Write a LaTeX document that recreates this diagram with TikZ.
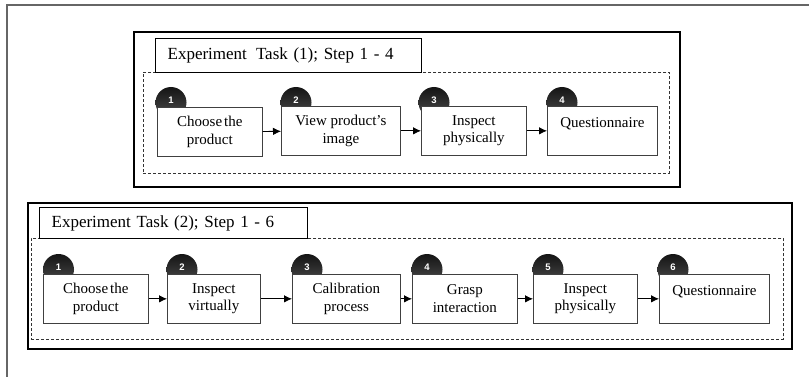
\documentclass[tikz,border=0pt]{standalone}
\usepackage{fontspec}
\setmainfont{Liberation Serif}
\newfontfamily\badgefont{Liberation Sans}
\usetikzlibrary{arrows.meta,shadows}
\begin{document}
\begin{tikzpicture}[x=1pt,y=-1pt,
  frameline/.style={draw=black!60, line width=1.3pt},
  taskbox/.style={draw=black, line width=1.6pt, anchor=north west, inner sep=0pt},
  dashbox/.style={draw=black!80, line width=0.7pt, dash pattern=on 3pt off 2pt, anchor=north west, inner sep=0pt},
  titlebox/.style={draw=black, line width=1.3pt, fill=white, anchor=north west, inner xsep=12pt, inner ysep=0pt,
    text width=242pt, align=left, font=\rmfamily\fontsize{17}{20}\selectfont},
  stepbox/.style={draw=black!75, line width=0.7pt, fill=white, anchor=north west, inner sep=0pt, align=center,
    minimum height=49pt, font=\rmfamily\fontsize{15}{17.5}\selectfont,
    drop shadow={shadow xshift=0.9pt, shadow yshift=-0.9pt, fill=black!45, opacity=1}},
  badge/.style={circle, top color=black!92, bottom color=black!70, minimum size=31pt, inner sep=0pt, text=white,
    font=\badgefont\bfseries\fontsize{9.5}{9.5}\selectfont},
  flow/.style={-{Latex[length=8pt,width=7.5pt]}, line width=0.8pt, black}
]
\useasboundingbox (0,0) rectangle (809,377);
% outer frame
\coordinate (fa) at (7,377);
\coordinate (fb) at (7,5);
\coordinate (fc) at (809,5);
\draw[frameline] (fa) -- (fb) -- (fc);

% ---------- Task 1 ----------
\node[taskbox, minimum width=546pt, minimum height=155pt] (t1) at (133,31) {};
\node[dashbox, minimum width=526pt, minimum height=101pt] (d1) at (143,72) {};
\node[titlebox, minimum height=34pt] (h1) at (155,38) {Experiment\hspace{0.2em} Task (1); Step 1 - 4};

\node[badge] (a1) at (171,102.5) {\raisebox{4pt}{1}};
\node[badge] (a2) at (296,102.5) {\raisebox{4pt}{2}};
\node[badge] (a3) at (434,102.5) {\raisebox{4pt}{3}};
\node[badge] (a4) at (562,102.5) {\raisebox{4pt}{4}};

\node[stepbox, minimum width=105pt] (s1) at (157,107) {Choose\kern-0.12em\ the\\product};
\node[stepbox, minimum width=119pt] (s2) at (281,106) {View product's\\image};
\node[stepbox, minimum width=105pt] (s3) at (421,106) {Inspect\\physically};
\node[stepbox, minimum width=110pt] (s4) at (547,106) {Questionnaire\\\mbox{}};

\draw[flow] (s1) -- (s2);
\draw[flow] (s2) -- (s3);
\draw[flow] (s3) -- (s4);

% ---------- Task 2 ----------
\node[taskbox, minimum width=764pt, minimum height=146pt] (t2) at (27,202) {};
\node[dashbox, minimum width=752pt, minimum height=101pt] (d2) at (31,238) {};
\node[titlebox, minimum height=31pt, text width=244pt] (h2) at (39,207) {Experiment Task (2); Step 1 - 6};

\node[badge] (b1) at (58.5,269.5) {\raisebox{4pt}{1}};
\node[badge] (b2) at (182,269.5) {\raisebox{4pt}{2}};
\node[badge] (b3) at (307,269.5) {\raisebox{4pt}{3}};
\node[badge] (b4) at (427,269.5) {\raisebox{4pt}{4}};
\node[badge] (b5) at (548,269.5) {\raisebox{4pt}{5}};
\node[badge] (b6) at (673,269.5) {\raisebox{4pt}{6}};

\node[stepbox, minimum width=105pt] (r1) at (43,274) {Choose\kern-0.12em\ the\\product};
\node[stepbox, minimum width=93pt] (r2) at (167,274) {Inspect\\virtually};
\node[stepbox, minimum width=108pt] (r3) at (292,274) {Calibration\\process};
\node[stepbox, minimum width=105pt] (r4) at (412,274) {Grasp\\interaction};
\node[stepbox, minimum width=104pt] (r5) at (533,274) {Inspect\\physically};
\node[stepbox, minimum width=110pt] (r6) at (659,274) {Questionnaire\\\mbox{}};

\draw[flow] (r1) -- (r2);
\draw[flow] (r2) -- (r3);
\draw[flow] (r3) -- (r4);
\draw[flow] (r4) -- (r5);
\draw[flow] (r5) -- (r6);
\end{tikzpicture}
\end{document}
